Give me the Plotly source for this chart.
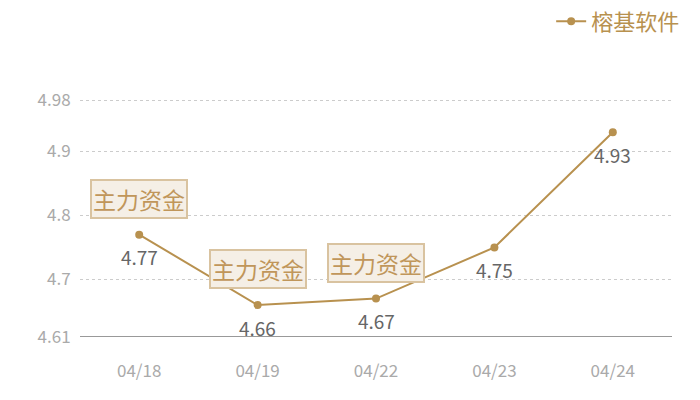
import plotly.graph_objects as go

dates = ["04/18", "04/19", "04/22", "04/23", "04/24"]
prices = [4.77, 4.66, 4.67, 4.75, 4.93]
flag_idx = [0, 1, 2]
flag_text = "主力资金"
y_ticks = [4.61, 4.7, 4.8, 4.9, 4.98]

gold = "#b8914f"
font_family = "Noto Sans CJK SC, Noto Sans, sans-serif"

fig = go.Figure()
fig.add_trace(go.Scatter(
    x=dates, y=prices, mode="lines+markers", name="榕基软件",
    line=dict(color=gold, width=2), marker=dict(color=gold, size=8),
))

# value labels under each point
for d, v in zip(dates, prices):
    fig.add_annotation(
        x=d, y=v, text=str(v), showarrow=False, yshift=-22,
        font=dict(color="#666666", size=19, family=font_family),
    )

# "主力资金" flags
for i in flag_idx:
    fig.add_annotation(
        x=dates[i], y=prices[i], text=flag_text, showarrow=False,
        yshift=36, font=dict(color="#c0965a", size=23, family=font_family),
        bgcolor="#f5efe6", bordercolor="#d9c3a0", borderwidth=2, borderpad=1,
    )

fig.update_layout(
    width=684, height=384,
    margin=dict(l=72, r=20, t=91, b=55, autoexpand=False),
    plot_bgcolor="white", paper_bgcolor="white",
    font=dict(family=font_family),
    showlegend=True,
    legend=dict(x=0.99, xref="container", xanchor="right", y=0.965, yref="container", yanchor="middle",
                font=dict(color=gold, size=22), bgcolor="rgba(0,0,0,0)"),
    xaxis=dict(type="category", range=[-0.5, 4.5], showgrid=False, showline=False, ticks="outside",
               ticklen=19, tickcolor="rgba(0,0,0,0)",
               tickfont=dict(color="#aaaaaa", size=17)),
    yaxis=dict(range=[4.61, 4.982], tickvals=y_ticks, ticktext=[str(t) for t in y_ticks],
               showgrid=True, gridcolor="#cccccc", griddash="dot", zeroline=False,
               tickfont=dict(color="#aaaaaa", size=17), ticks="outside",
               ticklen=5, tickcolor="rgba(0,0,0,0)"),
)
fig.add_hline(y=4.61, line=dict(color="#333333", width=1))

fig.write_html("out.html")
